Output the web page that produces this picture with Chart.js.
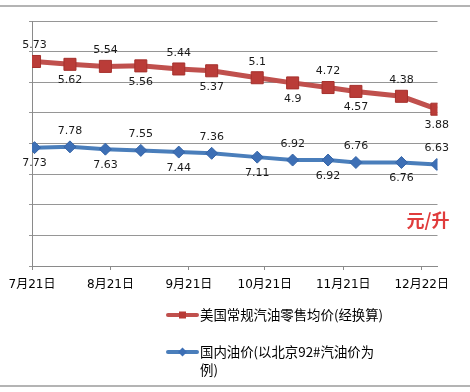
<!DOCTYPE html>
<html><head><meta charset="utf-8">
<script src="https://cdn.jsdelivr.net/npm/chart.js@4"></script>
<style>html,body{margin:0;padding:0;background:#fff;}#wrap{width:470px;height:392px;position:relative;}</style>
</head><body><div id="wrap"><canvas id="c" width="470" height="392"></canvas></div>
<script>
// ---- data ----
const startDate = '2008-07-21';
const pointDates = ['2008-07-22','2008-08-05','2008-08-19','2008-09-02','2008-09-17','2008-09-30','2008-10-18','2008-11-01','2008-11-15','2008-11-26','2008-12-14','2008-12-28'];
const usPrice = [5.73,5.62,5.54,5.56,5.44,5.37,5.1,4.9,4.72,4.57,4.38,3.88];
const cnPrice = [7.73,7.78,7.63,7.55,7.44,7.36,7.11,6.92,6.92,6.76,6.76,6.63];
const tickDates = ['2008-07-21','2008-08-21','2008-09-21','2008-10-21','2008-11-21','2008-12-22'];
const tickLabels = ['7月21日','8月21日','9月21日','10月21日','11月21日','12月22日'];
const seriesNames = ['美国常规汽油零售均价(经换算)','国内油价(以北京92#汽油价为例)'];
const unitLabel = '元/升';

function dayOf(s){
  const p = s.split('-').map(Number), q = startDate.split('-').map(Number);
  return (Date.UTC(p[0],p[1]-1,p[2]) - Date.UTC(q[0],q[1]-1,q[2]))/86400000;
}
const tickDays = tickDates.map(dayOf);
const FONT = '"DejaVu Sans", "Noto Sans CJK SC", sans-serif';
const RED = '#C0504D', BLUE = '#4A7EBB';

const deco = {
  id:'deco',
  beforeDraw(chart){
    const ctx = chart.ctx;
    ctx.save();
    ctx.fillStyle = '#fff'; ctx.fillRect(0,0,chart.width,chart.height);
    ctx.strokeStyle = '#b4b4b4'; ctx.lineWidth = 2;
    ctx.beginPath(); ctx.moveTo(0,6); ctx.lineTo(chart.width,6);
    ctx.moveTo(0,386); ctx.lineTo(chart.width,386); ctx.stroke();
    ctx.restore();
  },
  afterDatasetsDraw(chart){
    const ctx = chart.ctx;
    ctx.save();
    ctx.font = '11px ' + FONT;
    ctx.fillStyle = '#1a1a1a';
    ctx.textAlign = 'center'; ctx.textBaseline = 'middle';
    [usPrice, cnPrice].forEach((vals, di) => {
      const meta = chart.getDatasetMeta(di);
      meta.data.forEach((pt, i) => {
        const above = di === 0 ? i % 2 === 0 : i % 2 === 1;
        ctx.fillText(String(vals[i]), pt.x, pt.y + (above ? -16 : 16));
      });
    });
    ctx.restore();
  },
  afterDraw(chart){
    const ctx = chart.ctx;
    ctx.save();
    ctx.font = 'bold 18px "Noto Sans CJK SC", sans-serif';
    ctx.fillStyle = '#E03C3C';
    ctx.textAlign = 'center'; ctx.textBaseline = 'middle';
    ctx.fillText(unitLabel, 428, 220);
    const items = [
      {color: RED, style:'rect', y:315, lw:4},
      {color: BLUE, style:'rectRot', y:352, lw:4}
    ];
    ctx.font = '13.4px "Noto Sans CJK SC", sans-serif';
    ctx.textAlign = 'left';
    items.forEach((it, k) => {
      ctx.strokeStyle = it.color; ctx.lineWidth = it.lw; ctx.lineCap = 'round';
      ctx.beginPath(); ctx.moveTo(168, it.y); ctx.lineTo(197, it.y); ctx.stroke();
      ctx.fillStyle = k === 0 ? '#B83A36' : '#3D6FB5';
      if (it.style === 'rect') ctx.fillRect(179, it.y-3.5, 7, 7);
      else { ctx.beginPath(); ctx.moveTo(182.5,it.y-4.5); ctx.lineTo(187,it.y); ctx.lineTo(182.5,it.y+4.5); ctx.lineTo(178,it.y); ctx.closePath(); ctx.fill(); }
      ctx.fillStyle = '#000';
      const text = seriesNames[k], maxW = 185;
      let line = '', y = it.y;
      for (const ch of text) {
        if (ctx.measureText(line + ch).width > maxW && line) {
          ctx.fillText(line, 200, y); line = ch; y += 18;
        } else line += ch;
      }
      ctx.fillText(line, 200, y);
    });
    ctx.restore();
  }
};

new Chart(document.getElementById('c'), {
  type:'line',
  data:{datasets:[
    {label:seriesNames[0], data:pointDates.map((d,i)=>({x:dayOf(d), y:usPrice[i]})), yAxisID:'y2',
     borderColor:RED, borderWidth:5, pointStyle:'rect', pointRadius:8.5, pointBackgroundColor:'#BA3C38',
     pointBorderColor:'#A5302C', pointBorderWidth:1, tension:0},
    {label:seriesNames[1], data:pointDates.map((d,i)=>({x:dayOf(d), y:cnPrice[i]})), yAxisID:'y',
     borderColor:BLUE, borderWidth:4, pointStyle:'rectRot', pointRadius:6, pointBackgroundColor:'#3D6FB5',
     pointBorderColor:'#3565A8', pointBorderWidth:1, tension:0}
  ]},
  options:{
    responsive:false, animation:false, events:[],
    layout:{padding:{left:29, right:32.5, top:21, bottom:98}},
    plugins:{legend:{display:false}, tooltip:{enabled:false}},
    scales:{
      x:{type:'linear', min:0, max:dayOf(pointDates[pointDates.length-1]) + 0.25,
         afterFit: s => { s.height = 28; s.paddingLeft = 0; s.paddingRight = 0; },
         afterBuildTicks: ax => { ax.ticks = tickDays.map(v => ({value:v})); },
         ticks:{autoSkip:false, maxRotation:0, padding:8, color:'#000', font:{family:FONT, size:12},
                callback:(v)=>{const i = tickDays.indexOf(v); return i >= 0 ? tickLabels[i] : '';}},
         grid:{drawOnChartArea:false, tickLength:4, color:'#8a8a8a'}, border:{color:'#8a8a8a'}},
      y:{position:'left', min:0, max:16, afterFit: s => { s.width = 3; s.paddingTop = 0; s.paddingBottom = 0; },
         ticks:{stepSize:2, display:false},
         grid:{color:'#969696', tickLength:3}, border:{color:'#8a8a8a'}},
      y2:{position:'right', display:false, min:-2.2, max:7.3}
    }
  },
  plugins:[deco]
});
</script></body></html>
